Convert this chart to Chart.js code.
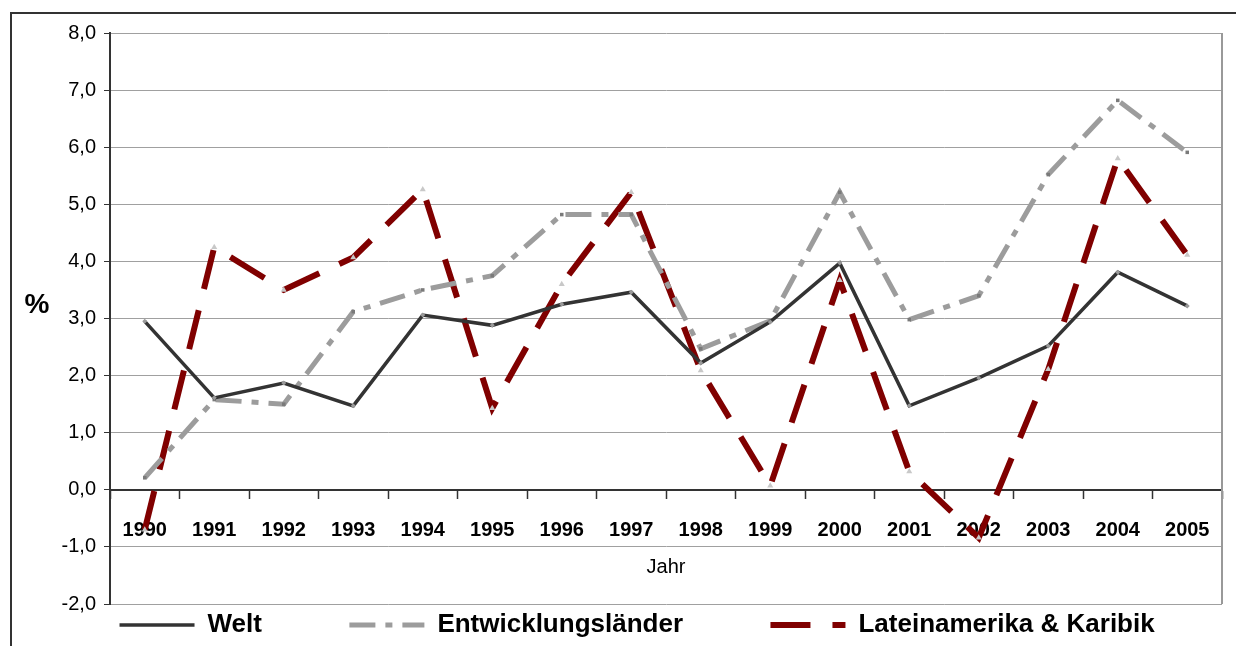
<!DOCTYPE html>
<html>
<head>
<meta charset="utf-8">
<script src="https://cdn.jsdelivr.net/npm/chart.js@4.4.1/dist/chart.umd.min.js"></script>
<style>
  html, body { margin: 0; padding: 0; background: #fff; overflow: hidden; }
</style>
</head>
<body>
<canvas id="growth-chart" width="1236" height="646"></canvas>
<script>
// Jahre auf der x-Achse
const years = ['1990', '1991', '1992', '1993', '1994', '1995', '1996', '1997',
               '1998', '1999', '2000', '2001', '2002', '2003', '2004', '2005']

// Wachstum in %
const welt = [2.95, 1.61, 1.87, 1.47, 3.06, 2.88, 3.25, 3.46, 2.22, 2.94, 3.97, 1.47, 1.96, 2.52, 3.81, 3.22]
const entwicklungslaender = [0.21, 1.58, 1.50, 3.12, 3.50, 3.75, 4.82, 4.82, 2.47, 2.96, 5.21, 2.98, 3.40, 5.52, 6.82, 5.91]
const lateinamerika = [-0.70, 4.25, 3.50, 4.07, 5.26, 1.43, 3.60, 5.21, 2.09, 0.07, 3.67, 0.32, -0.84, 2.11, 5.80, 4.11]

const seriesNames = ['Welt', 'Entwicklungsländer', 'Lateinamerika & Karibik']

// y-Achse von -2,0 bis 8,0
const yMin = -2
const yMax = 8
const yStep = 1

const baseFont = "'Liberation Sans', Arial, sans-serif"
const legendGap = ' '.repeat(11)    // Abstand zwischen den Legendeneinträgen
const legendTail = ' '.repeat(8)

// Rahmen, rechte Kante der Zeichenfläche und das "%"-Label
const framePlugin = {
    id: 'frame',
    beforeDraw(chart) {
        let ctx = chart.ctx
        ctx.save()
        ctx.fillStyle = '#fff'
        ctx.fillRect(0, 0, chart.width, chart.height)
        ctx.strokeStyle = '#333'
        ctx.lineWidth = 2
        ctx.beginPath()
        ctx.moveTo(11, chart.height + 5)
        ctx.lineTo(11, 13)
        ctx.lineTo(chart.width + 5, 13)
        ctx.stroke()
        ctx.restore()
    },
    beforeDatasetsDraw(chart) {
        let ctx = chart.ctx
        let area = chart.chartArea
        ctx.save()
        ctx.strokeStyle = '#999'
        ctx.lineWidth = 2
        ctx.beginPath()
        ctx.moveTo(area.right, area.top)
        ctx.lineTo(area.right, area.bottom)
        ctx.stroke()
        ctx.restore()
    },
    afterDraw(chart) {
        let ctx = chart.ctx
        let area = chart.chartArea
        ctx.save()
        ctx.fillStyle = '#000'
        ctx.font = 'bold 28px ' + baseFont
        ctx.textAlign = 'center'
        ctx.textBaseline = 'middle'
        ctx.fillText('%', 37, (area.top + area.bottom) / 2 - 13)
        ctx.restore()
    }
}

let ctx = document.querySelector('#growth-chart').getContext('2d')

let growthChart = new Chart(ctx, {
    type: 'line',
    data: {
        labels: years,
        datasets: [
            {
                label: seriesNames[0],
                data: welt,
                borderColor: '#333333',
                borderWidth: 3.5,
                pointStyle: 'rectRot',
                pointRadius: 2.5,
                pointBackgroundColor: '#9a9a9a',
                pointBorderWidth: 0,
                tension: 0
            },
            {
                label: seriesNames[1],
                data: entwicklungslaender,
                borderColor: '#9c9c9c',
                borderWidth: 5,
                borderDash: [26, 10, 7, 10],
                pointStyle: 'rect',
                pointRadius: 2.5,
                pointBackgroundColor: '#7a7a7a',
                pointBorderWidth: 0,
                tension: 0
            },
            {
                label: seriesNames[2],
                data: lateinamerika,
                borderColor: '#800000',
                borderWidth: 6,
                borderDash: [40, 22],
                pointStyle: 'triangle',
                pointRadius: 3.5,
                pointBackgroundColor: '#c8c8c8',
                pointBorderWidth: 0,
                tension: 0
            }
        ]
    },
    options: {
        responsive: false,
        animation: false,
        devicePixelRatio: 1,
        layout: {
            padding: {left: 0, right: 14, top: 33, bottom: -2}
        },
        scales: {
            x: {
                position: {y: 0},
                offset: true,
                grid: {
                    offset: true,
                    drawOnChartArea: false,
                    drawTicks: true,
                    tickLength: 8,
                    tickColor: '#333',
                    tickWidth: 1.5
                },
                border: {color: '#333', width: 2},
                ticks: {
                    color: '#000',
                    font: {family: baseFont, size: 20, weight: 'bold'},
                    padding: 21,
                    maxRotation: 0,
                    autoSkip: false
                },
                title: {
                    display: true,
                    text: 'Jahr',
                    color: '#000',
                    font: {family: baseFont, size: 20},
                    padding: {top: -8, bottom: 0}
                }
            },
            y: {
                min: yMin,
                max: yMax,
                ticks: {
                    stepSize: yStep,
                    color: '#000',
                    font: {family: baseFont, size: 20},
                    padding: 8,
                    callback: (v) => v.toFixed(1).replace('.', ',')
                },
                grid: {
                    color: '#a0a0a0',
                    lineWidth: 1,
                    tickColor: '#333',
                    tickLength: 6
                },
                border: {color: '#333', width: 2},
                afterFit(scale) {
                    scale.width = 110
                }
            }
        },
        plugins: {
            tooltip: {enabled: false},
            legend: {
                position: 'bottom',
                fullSize: false,
                labels: {
                    usePointStyle: true,
                    pointStyle: 'line',
                    pointStyleWidth: 75,
                    color: '#000',
                    font: {family: baseFont, size: 26, weight: 'bold'},
                    padding: 8,
                    generateLabels(chart) {
                        let items = Chart.defaults.plugins.legend.labels.generateLabels(chart)
                        items.forEach(function(item, i) {
                            let ds = chart.data.datasets[item.datasetIndex]
                            item.strokeStyle = ds.borderColor
                            item.lineWidth = ds.borderWidth
                            item.lineDash = ds.borderDash || []
                            item.text += (i < items.length - 1) ? legendGap : legendTail
                        })
                        return items
                    }
                }
            }
        }
    },
    plugins: [framePlugin]
})
</script>
</body>
</html>
